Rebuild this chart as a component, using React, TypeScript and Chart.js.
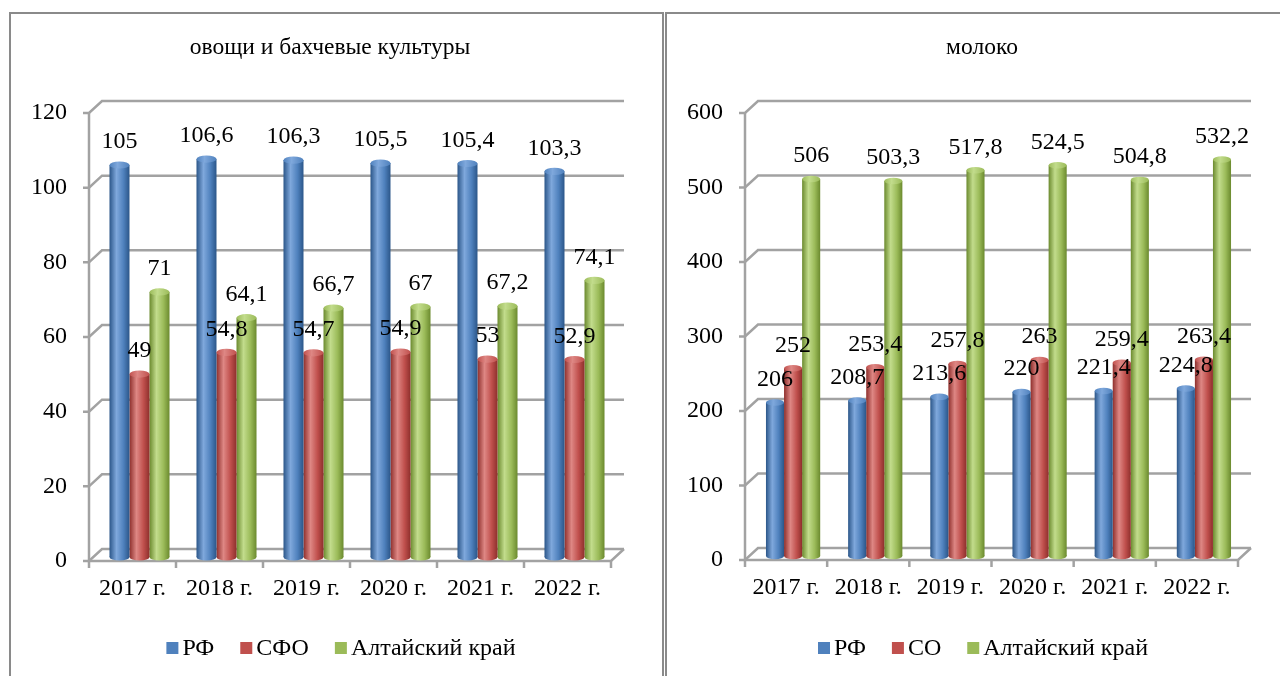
import React, { useEffect, useRef } from "react";
import { Chart, registerables } from "chart.js";

Chart.register(...registerables);

// ---------- data ----------
const years = ["2017 г.", "2018 г.", "2019 г.", "2020 г.", "2021 г.", "2022 г."];

const vegTitle = "овощи и бахчевые культуры";
const vegLabels = ["РФ", "СФО", "Алтайский край"];
const vegRF = [105, 106.6, 106.3, 105.5, 105.4, 103.3];
const vegSFO = [49, 54.8, 54.7, 54.9, 53, 52.9];
const vegAltai = [71, 64.1, 66.7, 67, 67.2, 74.1];
const vegMax = 120;
const vegStep = 20;

const milkTitle = "молоко";
const milkLabels = ["РФ", "СО", "Алтайский край"];
const milkRF = [206, 208.7, 213.6, 220, 221.4, 224.8];
const milkSO = [252, 253.4, 257.8, 263, 259.4, 263.4];
const milkAltai = [506, 503.3, 517.8, 524.5, 504.8, 532.2];
const milkMax = 600;
const milkStep = 100;

// ---------- styles ----------
const FONT = '"Liberation Serif", "Times New Roman", serif';
const FS = 24;
const PALETTE = [
  { base: "#4f81bd", dark: "#2b5689", light: "#7fa8dc" },
  { base: "#c0504d", dark: "#8e2f2c", light: "#de8784" },
  { base: "#9bbb59", dark: "#6b8a2e", light: "#c2dc8c" },
];

const fmt = (v: number) => String(v).replace(".", ",");

const cylinderPlugin = {
  id: "cyl3d",
  beforeDatasetsDraw(chart: any, _args: any, opts: any) {
    const { ctx, chartArea: a, scales } = chart;
    const ys = scales.y;
    const xs = scales.x;
    const dx = opts.dx, dy = opts.dy;
    ctx.save();
    ctx.strokeStyle = "#a2a2a2";
    ctx.lineWidth = 2.5;
    ctx.lineJoin = "miter";
    ys.ticks.forEach((t: any) => {
      const py = ys.getPixelForValue(t.value);
      ctx.beginPath();
      ctx.moveTo(a.left - 6, py);
      ctx.lineTo(a.left, py);
      ctx.lineTo(a.left + dx, py - dy);
      ctx.lineTo(a.right + dx, py - dy);
      ctx.stroke();
    });
    ctx.beginPath();
    ctx.moveTo(a.left, a.top);
    ctx.lineTo(a.left, a.bottom);
    ctx.lineTo(a.right, a.bottom);
    ctx.lineTo(a.right + dx, a.bottom - dy);
    ctx.stroke();
    const n = chart.data.labels.length;
    for (let i = 0; i <= n; i++) {
      const px = xs.getPixelForValue(i - 0.5);
      ctx.beginPath();
      ctx.moveTo(px, a.bottom);
      ctx.lineTo(px, a.bottom + 7);
      ctx.stroke();
    }
    ctx.restore();

    // bars: shift into depth, cylinder gradients, bottom caps
    ctx.save();
    ctx.translate(opts.bx, -opts.by);
    chart.data.datasets.forEach((_ds: any, di: number) => {
      const meta = chart.getDatasetMeta(di);
      const pal = PALETTE[di];
      meta.data.forEach((el: any) => {
        const w = el.width;
        const g = ctx.createLinearGradient(el.x - w / 2, 0, el.x + w / 2, 0);
        g.addColorStop(0, pal.dark);
        g.addColorStop(0.35, pal.light);
        g.addColorStop(0.7, pal.base);
        g.addColorStop(1, pal.dark);
        el.options = Object.assign({}, el.options, { backgroundColor: g });
        ctx.fillStyle = g;
        ctx.beginPath();
        ctx.ellipse(el.x, el.base, w / 2, w * 0.18, 0, 0, Math.PI * 2);
        ctx.fill();
      });
    });
  },
  afterDatasetsDraw(chart: any, _args: any, opts: any) {
    const { ctx } = chart;
    chart.data.datasets.forEach((_ds: any, di: number) => {
      const meta = chart.getDatasetMeta(di);
      const pal = PALETTE[di];
      meta.data.forEach((el: any) => {
        const w = el.width;
        const g = ctx.createLinearGradient(el.x - w / 2, 0, el.x + w / 2, 0);
        g.addColorStop(0, pal.base);
        g.addColorStop(0.4, pal.light);
        g.addColorStop(1, pal.base);
        ctx.fillStyle = g;
        ctx.beginPath();
        ctx.ellipse(el.x, el.y, w / 2, w * 0.18, 0, 0, Math.PI * 2);
        ctx.fill();
      });
    });
    ctx.restore();

    // data labels
    ctx.save();
    ctx.font = `${FS}px ${FONT}`;
    ctx.fillStyle = "#000";
    ctx.textAlign = "center";
    ctx.textBaseline = "middle";
    chart.data.datasets.forEach((ds: any, di: number) => {
      const meta = chart.getDatasetMeta(di);
      meta.data.forEach((el: any, i: number) => {
        ctx.fillText(fmt(ds.data[i]), el.x + opts.bx, el.y - opts.by - opts.labelGap);
      });
    });
    ctx.restore();
  },
  afterDraw(chart: any, _args: any, opts: any) {
    const { ctx } = chart;
    ctx.save();
    ctx.fillStyle = "#000";
    ctx.textBaseline = "middle";
    ctx.textAlign = "center";
    ctx.font = `${opts.titleSize}px ${FONT}`;
    ctx.fillText(opts.title, opts.titleX, opts.titleY);

    // legend
    ctx.font = `${FS}px ${FONT}`;
    ctx.textAlign = "left";
    const box = 12, gap = 4, spacing = 26;
    const items = chart.data.datasets.map((ds: any) => ({ label: ds.label, w: ctx.measureText(ds.label).width }));
    const total = items.reduce((s: number, it: any) => s + box + gap + it.w, 0) + spacing * (items.length - 1);
    let x = opts.legendX - total / 2;
    items.forEach((it: any, i: number) => {
      ctx.fillStyle = PALETTE[i].base;
      ctx.fillRect(x, opts.legendY - box / 2, box, box);
      ctx.fillStyle = "#000";
      ctx.fillText(it.label, x + box + gap, opts.legendY + 1);
      x += box + gap + it.w + spacing;
    });
    ctx.restore();
  },
};

type PanelProps = {
  labels: string[];
  series: number[][];
  max: number;
  step: number;
  title: string;
  width: number;
  height: number;
  padRight: number;
  axisW: number;
  axisH: number;
  catPct: number;
  titleX: number;
  legendX: number;
};

function ChartPanel(p: PanelProps) {
  const ref = useRef<HTMLCanvasElement | null>(null);
  useEffect(() => {
    if (!ref.current) return;
    const chart = new Chart(ref.current, {
      type: "bar",
      data: {
        labels: years,
        datasets: p.series.map((s, i) => ({
          label: p.labels[i],
          data: s,
          backgroundColor: PALETTE[i].base,
          borderWidth: 0,
          categoryPercentage: p.catPct,
          barPercentage: 1,
        })),
      },
      options: {
        responsive: false,
        animation: false,
        events: [],
        layout: { padding: { left: 0, right: p.padRight, top: 99, bottom: 0 } },
        plugins: {
          legend: { display: false },
          title: { display: false },
          tooltip: { enabled: false },
          cyl3d: {
            dx: 13,
            dy: 12,
            bx: 7,
            by: 4,
            labelGap: 23,
            title: p.title,
            titleSize: 23.5,
            titleX: p.titleX,
            titleY: 34,
            legendX: p.legendX,
            legendY: 634,
          },
        } as any,
        scales: {
          x: {
            grid: { display: false, drawTicks: false },
            border: { display: false },
            ticks: { color: "#000", font: { family: FONT, size: FS }, padding: 13, maxRotation: 0, autoSkip: false },
            afterFit: (s: any) => { s.height = p.axisH; },
          },
          y: {
            min: 0,
            max: p.max,
            grid: { display: false, drawTicks: false },
            border: { display: false },
            ticks: { stepSize: p.step, color: "#000", font: { family: FONT, size: FS }, padding: 22 },
            afterFit: (s: any) => { s.width = p.axisW; },
          },
        },
      },
      plugins: [cylinderPlugin],
    });
    return () => chart.destroy();
  }, []);
  return <canvas ref={ref} width={p.width} height={p.height} style={{ width: p.width, height: p.height, display: "block" }} />;
}

export default function App() {
  return (
    <div style={{ position: "fixed", left: 0, top: 0, width: 1280, height: 676, overflow: "hidden", background: "#fff" }}>
      <div style={{ position: "absolute", left: 9, top: 12, width: 655, height: 720, border: "2px solid #8a8a8a", boxSizing: "border-box" }} />
      <div style={{ position: "absolute", left: 665, top: 12, width: 700, height: 720, border: "2px solid #8a8a8a", boxSizing: "border-box" }} />
      <div style={{ position: "absolute", left: 11, top: 14 }}>
        <ChartPanel
          labels={vegLabels}
          series={[vegRF, vegSFO, vegAltai]}
          max={vegMax}
          step={vegStep}
          title={vegTitle}
          width={651}
          height={662}
          padRight={51}
          axisW={78}
          axisH={115}
          catPct={0.69}
          titleX={319}
          legendX={330}
        />
      </div>
      <div style={{ position: "absolute", left: 667, top: 14 }}>
        <ChartPanel
          labels={milkLabels}
          series={[milkRF, milkSO, milkAltai]}
          max={milkMax}
          step={milkStep}
          title={milkTitle}
          width={613}
          height={662}
          padRight={42}
          axisW={78}
          axisH={116}
          catPct={0.66}
          titleX={315}
          legendX={316}
        />
      </div>
    </div>
  );
}
